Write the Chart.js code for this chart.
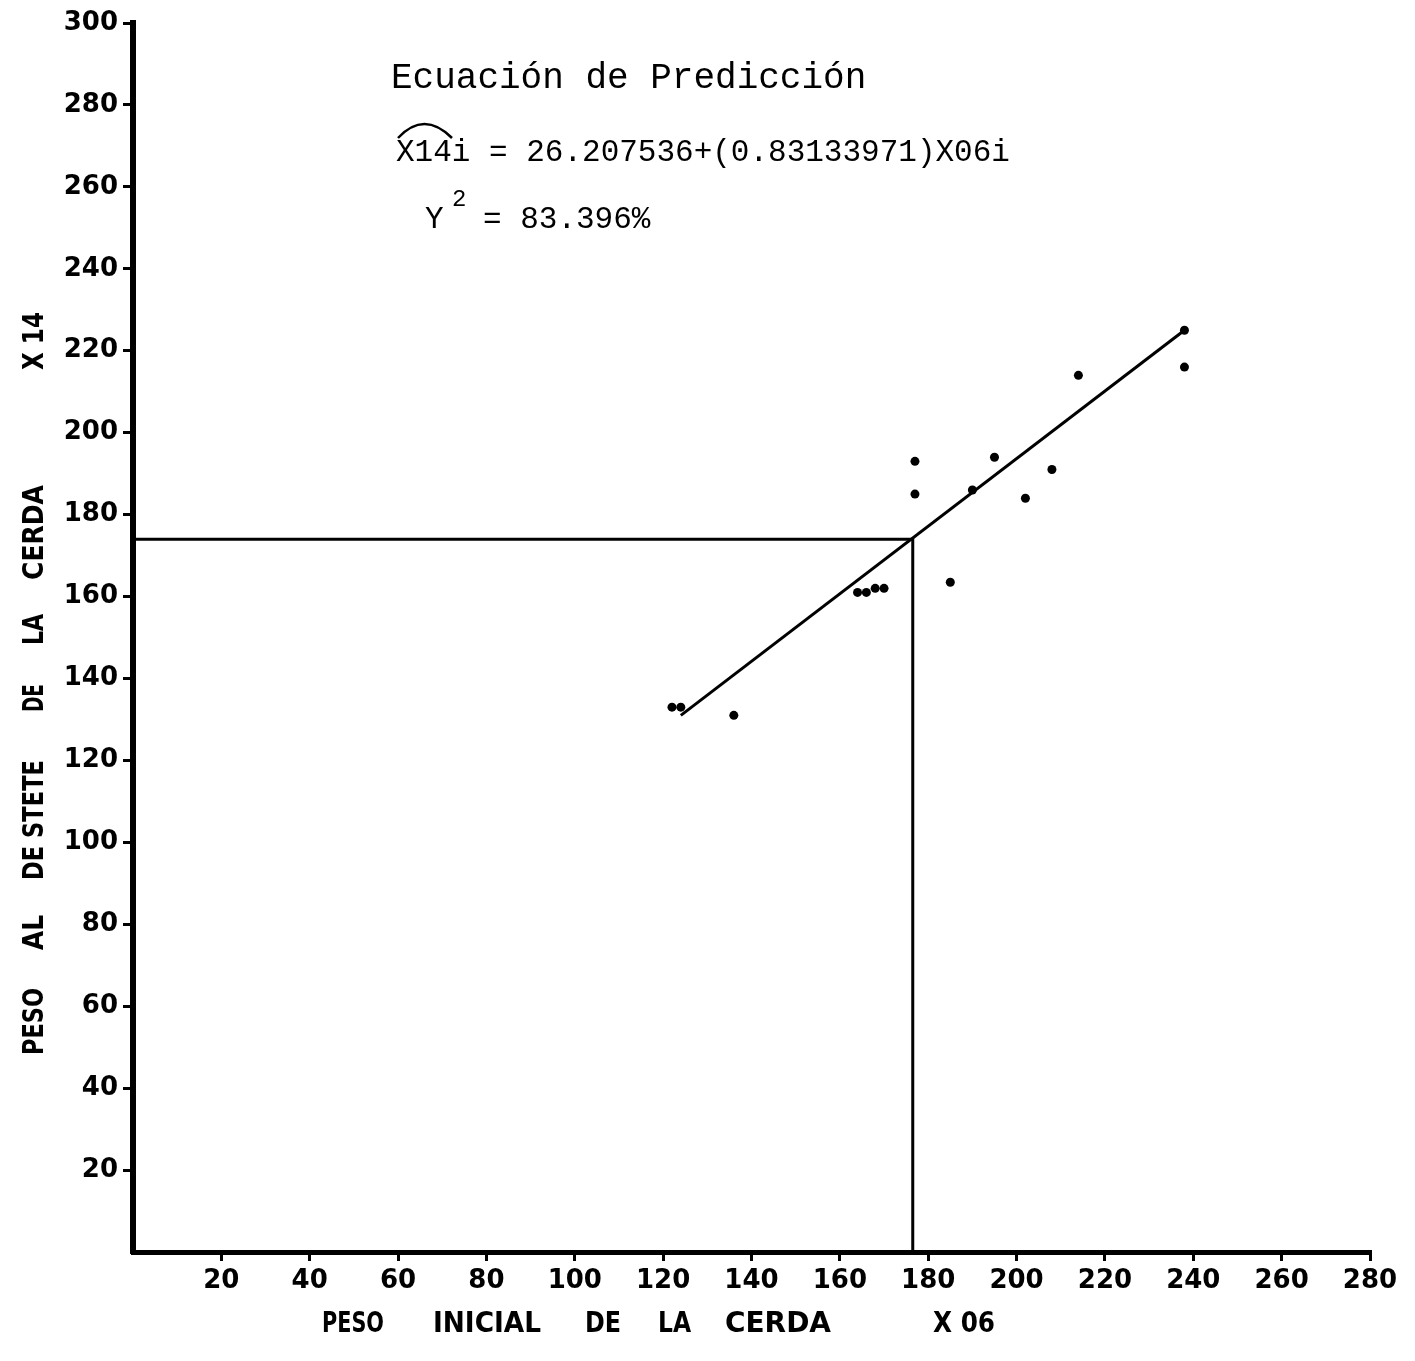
<!DOCTYPE html>
<html>
<head>
<meta charset="utf-8">
<script src="https://cdn.jsdelivr.net/npm/chart.js@4/dist/chart.umd.min.js"></script>
<style>
  body { margin: 0; background: #fff; }
</style>
</head>
<body>
<canvas id="scatter_chart" width="1415" height="1361"></canvas>
<script>
// DATA (X06 = peso inicial, X14 = peso al destete)
const peso_inicial = [122, 124, 136, 164, 166, 168, 170, 177, 177, 185, 190, 195, 202, 208, 214, 238, 238];
const peso_destete = [133, 133, 131, 161, 161, 162, 162, 193, 185, 163.5, 186, 194, 184, 191, 214, 216, 225];

// ends of the fitted line
const recta_x = [124, 238];
const recta_y = [131, 225];

// guide lines to the predicted point
const guia_x = [0, 176.5, 176.5];
const guia_y = [174, 174, 0];

// tick labels
const x_ticks = [20, 40, 60, 80, 100, 120, 140, 160, 180, 200, 220, 240, 260, 280];
const y_ticks = [20, 40, 60, 80, 100, 120, 140, 160, 180, 200, 220, 240, 260, 280, 300];

const toPoints = (xs, ys) => xs.map((x, i) => ({ x: x, y: ys[i] }));

const tickFont = { family: 'DejaVu Sans', size: 26, weight: 'bold' };

// draw a word squeezed/stretched to a given width
function drawWord(c, text, x, y, width) {
  const w = c.measureText(text).width;
  c.save();
  c.translate(x, y);
  c.scale(width / w, 1);
  c.fillText(text, 0, 0);
  c.restore();
}

const textos = {
  id: 'textos',
  afterDraw(chart) {
    const c = chart.ctx;
    c.save();
    c.fillStyle = '#000';
    c.strokeStyle = '#000';
    c.textBaseline = 'alphabetic';

    // prediction equation
    c.font = '36px "Liberation Mono"';
    c.fillText('Ecuación de Predicción', 391, 88);
    c.font = '31px "Liberation Mono"';
    c.fillText('X14i = 26.207536+(0.83133971)X06i', 396, 161);
    c.lineWidth = 2.5;
    c.beginPath();
    c.moveTo(398, 138);
    c.quadraticCurveTo(424, 110, 452, 138);
    c.stroke();
    c.fillText('Y', 425, 228);
    c.font = '24px "Liberation Mono"';
    c.fillText('2', 452, 206);
    c.font = '31px "Liberation Mono"';
    c.fillText('= 83.396%', 483, 228);

    // axis titles
    c.font = 'bold 28px "DejaVu Sans Condensed", "DejaVu Sans"';
    const xw = [['PESO', 322, 62], ['INICIAL', 433, 108], ['DE', 585, 36], ['LA', 658, 33], ['CERDA', 725, 106], ['X 06', 933, 62]];
    xw.forEach(w => drawWord(c, w[0], w[1], 1332, w[2]));

    c.save();
    c.translate(43, 0);
    c.rotate(-Math.PI / 2);
    const yw = [['PESO', 1055, 67], ['AL', 950, 35], ['DE STETE', 880, 120], ['DE', 712, 28], ['LA', 645, 31], ['CERDA', 580, 95], ['X 14', 370, 58]];
    yw.forEach(w => drawWord(c, w[0], -w[1], 0, w[2]));
    c.restore();

    c.restore();
  }
};

const config = {
  type: 'scatter',
  data: {
    datasets: [
      {
        label: 'observado',
        data: toPoints(peso_inicial, peso_destete),
        backgroundColor: '#000',
        borderWidth: 0,
        pointRadius: 4.5
      },
      {
        label: 'recta',
        data: toPoints(recta_x, recta_y),
        showLine: true,
        borderColor: '#000',
        borderWidth: 3,
        pointRadius: 0
      },
      {
        label: 'guia',
        data: toPoints(guia_x, guia_y),
        showLine: true,
        borderColor: '#000',
        borderWidth: 3,
        pointRadius: 0
      }
    ]
  },
  options: {
    responsive: false,
    animation: false,
    devicePixelRatio: 1,
    layout: { padding: { top: 23, right: 45, left: 0, bottom: 0 } },
    plugins: {
      legend: { display: false },
      tooltip: { enabled: false }
    },
    scales: {
      x: {
        type: 'linear',
        min: 0,
        max: 280,
        afterBuildTicks: s => { s.ticks = x_ticks.map(v => ({ value: v })); },
        afterFit: s => { s.height = 109; },
        ticks: { color: '#000', font: tickFont, padding: 5, maxRotation: 0, autoSkip: false },
        grid: { display: true, drawOnChartArea: false, drawTicks: true, tickLength: 9, lineWidth: 3, color: '#000' },
        border: { display: true, width: 5, color: '#000' }
      },
      y: {
        type: 'linear',
        min: 0,
        max: 300,
        afterBuildTicks: s => { s.ticks = y_ticks.map(v => ({ value: v })); },
        afterFit: s => { s.width = 133; },
        ticks: { color: '#000', font: tickFont, padding: 5, autoSkip: false },
        grid: { display: true, drawOnChartArea: false, drawTicks: true, tickLength: 10, lineWidth: 3, color: '#000' },
        border: { display: true, width: 6, color: '#000' }
      }
    }
  },
  plugins: [textos]
};

var myChart = new Chart(document.getElementById('scatter_chart'), config);
</script>
</body>
</html>
